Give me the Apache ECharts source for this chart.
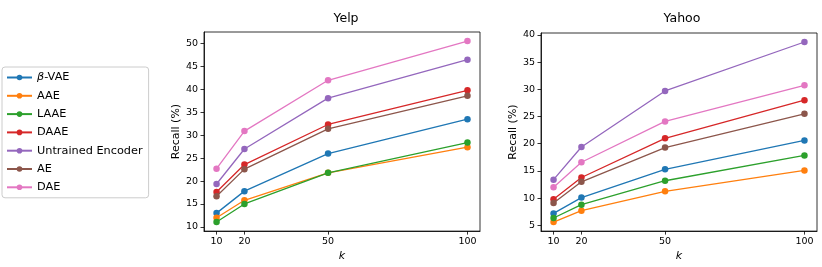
<!DOCTYPE html>
<html><head><meta charset="utf-8">
<script src="https://cdn.jsdelivr.net/npm/echarts@6/dist/echarts.min.js"></script>
<style>html,body{margin:0;padding:0;background:#fff}#c{width:822px;height:267px}</style>
</head><body><div id="c"></div>
<script>
const kValues = [10, 20, 50, 100];
const seriesNames = ['β-VAE', 'AAE', 'LAAE', 'DAAE', 'Untrained Encoder', 'AE', 'DAE'];
const colors = ['#1f77b4', '#ff7f0e', '#2ca02c', '#d62728', '#9467bd', '#8c564b', '#e377c2'];
// Yelp recall (%)
const yelpBetaVAE = [13.0, 17.8, 26.0, 33.5];
const yelpAAE = [12.0, 15.8, 21.8, 27.4];
const yelpLAAE = [11.05, 15.0, 21.8, 28.4];
const yelpDAAE = [17.6, 23.6, 32.35, 39.8];
const yelpUntrained = [19.35, 27.0, 38.1, 46.5];
const yelpAE = [16.7, 22.6, 31.4, 38.6];
const yelpDAE = [22.7, 30.9, 42.0, 50.56];
// Yahoo recall (%)
const yahooBetaVAE = [7.2, 10.1, 15.3, 20.6];
const yahooAAE = [5.6, 7.7, 11.25, 15.1];
const yahooLAAE = [6.35, 8.8, 13.2, 17.85];
const yahooDAAE = [9.8, 13.8, 21.0, 28.0];
const yahooUntrained = [13.4, 19.4, 29.7, 38.7];
const yahooAE = [9.1, 13.0, 19.3, 25.5];
const yahooDAE = [12.0, 16.6, 24.1, 30.75];
const yelpTicks = [10, 15, 20, 25, 30, 35, 40, 45, 50];
const yahooTicks = [5, 10, 15, 20, 25, 30, 35, 40];
const titles = ['Yelp', 'Yahoo'];

const yelpData = [yelpBetaVAE, yelpAAE, yelpLAAE, yelpDAAE, yelpUntrained, yelpAE, yelpDAE];
const yahooData = [yahooBetaVAE, yahooAAE, yahooLAAE, yahooDAAE, yahooUntrained, yahooAE, yahooDAE];

const font = 'DejaVu Sans';
function pad(arr) {
  const mn = Math.min(...arr), mx = Math.max(...arr), r = mx - mn;
  return [mn - 0.05 * r, mx + 0.05 * r];
}
const yelpAll = [].concat(...yelpData), yahooAll = [].concat(...yahooData);
const xr = pad(kValues), yr1 = pad(yelpAll), yr2 = pad(yahooAll);

function xAxis(i) {
  return {
    type: 'value', gridIndex: i, min: xr[0], max: xr[1],
    name: 'k', nameLocation: 'middle', nameGap: 19,
    nameTextStyle: { fontFamily: font, fontSize: 11, fontStyle: 'italic', color: '#000' },
    axisLine: { show: true, lineStyle: { color: '#000', width: 0.8 } },
    axisTick: { show: true, length: 3.5, lineStyle: { color: '#000', width: 0.8 }, customValues: kValues },
    axisLabel: { fontFamily: font, fontSize: 9.5, color: '#000', margin: 5, customValues: kValues },
    splitLine: { show: false }
  };
}
function yAxis(i, r, ticks) {
  return {
    type: 'value', gridIndex: i, min: r[0], max: r[1],
    name: 'Recall (%)', nameLocation: 'middle', nameGap: 22,
    nameTextStyle: { fontFamily: font, fontSize: 11, color: '#000' },
    axisLine: { show: true, lineStyle: { color: '#000', width: 0.8 } },
    axisTick: { show: true, length: 3.5, lineStyle: { color: '#000', width: 0.8 }, customValues: ticks },
    axisLabel: { fontFamily: font, fontSize: 9.5, color: '#000', margin: 6, customValues: ticks },
    splitLine: { show: false }
  };
}
const series = [];
[yelpData, yahooData].forEach((data, gi) => {
  data.forEach((vals, si) => {
    series.push({
      name: seriesNames[si], type: 'line', xAxisIndex: gi, yAxisIndex: gi,
      data: kValues.map((k, j) => [k, vals[j]]),
      symbol: 'circle', symbolSize: 6.5,
      lineStyle: { width: 1.3, color: colors[si] },
      itemStyle: { color: colors[si] },
      animation: false, z: 2 + si
    });
  });
});

const chart = echarts.init(document.getElementById('c'), null, { renderer: 'canvas' });
chart.setOption({
  backgroundColor: '#fff',
  animation: false,
  title: [
    { text: titles[0], left: 341, top: 7, textAlign: 'center', textStyle: { fontFamily: font, fontSize: 12.5, fontWeight: 'normal', color: '#000' } },
    { text: titles[1], left: 677, top: 7, textAlign: 'center', textStyle: { fontFamily: font, fontSize: 12.5, fontWeight: 'normal', color: '#000' } }
  ],
  grid: [
    { left: 204, top: 32, width: 276, height: 205, show: true, borderColor: '#000', borderWidth: 0.8, backgroundColor: 'transparent' },
    { left: 541, top: 33, width: 276, height: 204, show: true, borderColor: '#000', borderWidth: 0.8, backgroundColor: 'transparent' }
  ],
  xAxis: [xAxis(0), xAxis(1)],
  yAxis: [yAxis(0, yr1, yelpTicks), yAxis(1, yr2, yahooTicks)],
  legend: {
    orient: 'vertical', left: 2, top: 67,
    data: seriesNames,
    itemWidth: 25, itemHeight: 7, itemGap: 7.3,
    padding: [5, 6, 5, 4],
    borderColor: '#ccc', borderWidth: 1, borderRadius: 3,
    textStyle: { fontFamily: font, fontSize: 11.3, color: '#000', rich: { i: { fontFamily: font, fontSize: 11.3, fontStyle: 'italic', color: '#000' } } },
    formatter: function (n) { return n === 'β-VAE' ? '{i|β}-VAE' : n; }
  },
  series: series
});
</script></body></html>
